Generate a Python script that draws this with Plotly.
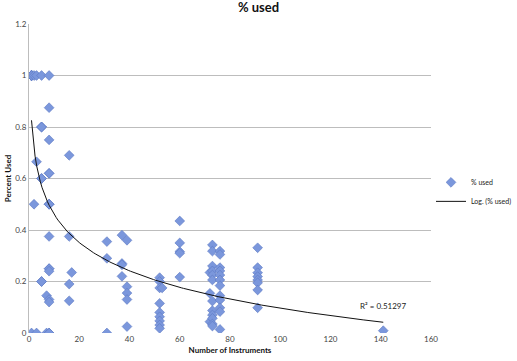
import numpy as np
import plotly.graph_objects as go

# Data: (number of instruments, percent used)
# overlapping (darker) markers are counted more than once
x_1 = [1] * 13;             y_1 = [1.0] * 12 + [0.0]
x_2 = [2, 2];               y_2 = [1.0, 0.5]
x_3 = [3, 3, 3];            y_3 = [1.0, 0.665, 0.0]
x_5 = [5] * 8;              y_5 = [1.0, 0.8, 0.8, 0.8, 0.6, 0.6, 0.2, 0.2]
x_7 = [7, 7];               y_7 = [0.145, 0.0]
x_8 = [8] * 16;             y_8 = [1.0, 0.875, 0.75, 0.62, 0.62, 0.5, 0.5, 0.5, 0.375, 0.25, 0.25, 0.24, 0.13, 0.12, 0.0, 0.0]
x_16 = [16] * 4;            y_16 = [0.69, 0.375, 0.19, 0.125]
x_17 = [17];                y_17 = [0.235]
x_31 = [31] * 3;            y_31 = [0.355, 0.29, 0.0]
x_37 = [37] * 4;            y_37 = [0.38, 0.27, 0.265, 0.22]
x_39 = [39] * 5;            y_39 = [0.36, 0.18, 0.155, 0.13, 0.025]
x_52 = [52] * 9;            y_52 = [0.215, 0.2, 0.175, 0.115, 0.08, 0.063, 0.047, 0.031, 0.018]
x_53 = [53];                y_53 = [0.175]
x_60 = [60] * 5;            y_60 = [0.435, 0.35, 0.316, 0.31, 0.217]
x_72 = [72] * 3;            y_72 = [0.235, 0.154, 0.044]
x_73 = [73] * 12;           y_73 = [0.342, 0.318, 0.26, 0.241, 0.225, 0.206, 0.124, 0.087, 0.07, 0.057, 0.035, 0.027]
x_76 = [76] * 12;           y_76 = [0.318, 0.305, 0.254, 0.241, 0.225, 0.206, 0.184, 0.145, 0.128, 0.098, 0.083, 0.014]
x_91 = [91] * 8;            y_91 = [0.331, 0.254, 0.234, 0.219, 0.206, 0.195, 0.167, 0.098]
x_141 = [141];              y_141 = [0.009]

xs = (x_1 + x_2 + x_3 + x_5 + x_7 + x_8 + x_16 + x_17 + x_31 + x_37 + x_39 +
      x_52 + x_53 + x_60 + x_72 + x_73 + x_76 + x_91 + x_141)
ys = (y_1 + y_2 + y_3 + y_5 + y_7 + y_8 + y_16 + y_17 + y_31 + y_37 + y_39 +
      y_52 + y_53 + y_60 + y_72 + y_73 + y_76 + y_91 + y_141)

x_ticks = [0, 20, 40, 60, 80, 100, 120, 140, 160]
y_ticks = [0, 0.2, 0.4, 0.6, 0.8, 1, 1.2]
y_tick_text = ["0", "0.2", "0.4", "0.6", "0.8", "1", "1.2"]
r2_label = "R² = 0.51297"

# Logarithmic trendline fitted to the data (as Excel does)
xa = np.array(xs, dtype=float)
ya = np.array(ys, dtype=float)
b, a = np.polyfit(np.log(xa), ya, 1)
xt = np.linspace(xa.min(), xa.max(), 200)
yt = a + b * np.log(xt)

FONT = "Lato, Open Sans, sans-serif"

fig = go.Figure()
fig.add_trace(go.Scatter(
    x=xs, y=ys, mode="markers", name="% used",
    marker=dict(symbol="diamond", size=7.5, color="#7b97dc",
                line=dict(color="#5d78c2", width=0.6)),
))
fig.add_trace(go.Scatter(
    x=xt, y=yt, mode="lines", name="Log. (% used)",
    line=dict(color="#111111", width=1),
))

fig.add_annotation(x=141, y=0.105, xref="x", yref="y", text=r2_label,
                   showarrow=False, xanchor="center",
                   font=dict(family=FONT, size=8, color="#222222"))

fig.update_layout(
    width=517, height=361,
    margin=dict(l=29, r=76, t=24, b=28),
    paper_bgcolor="white", plot_bgcolor="white",
    font=dict(family=FONT, size=8, color="#333333"),
    title=dict(text="<b>% used</b>", x=0.5, xref="container", xanchor="center",
               y=0.98, yref="container", yanchor="middle",
               font=dict(family=FONT, size=13, color="#111111")),
    showlegend=True,
    legend=dict(x=431 / 517, y=0.535, xref="container", yref="container",
                xanchor="left", yanchor="top",
                font=dict(family=FONT, size=7, color="#222222"),
                bgcolor="rgba(0,0,0,0)", itemwidth=30),
    xaxis=dict(range=[0, 160], tickvals=x_ticks, showgrid=False,
               zeroline=False, showline=False, ticks="", automargin=False,
               tickfont=dict(size=8, color="#444444"),
               title=dict(text="<b>Number of Instruments</b>", standoff=4,
                          font=dict(family=FONT, size=8, color="#111111"))),
    yaxis=dict(range=[0, 1.2], tickvals=y_ticks, ticktext=y_tick_text,
               showgrid=True, gridcolor="#bdbdbd", gridwidth=1,
               zeroline=False, showline=True, linecolor="#bdbdbd",
               linewidth=1, ticks="", ticklen=0, automargin=False,
               tickfont=dict(size=8, color="#444444"),
               title=dict(text="<b>Percent Used</b>", standoff=2,
                          font=dict(family=FONT, size=8, color="#111111"))),
)

fig.write_html("out.html", config={"displayModeBar": False},
               post_script="document.body.style.margin='0';")
